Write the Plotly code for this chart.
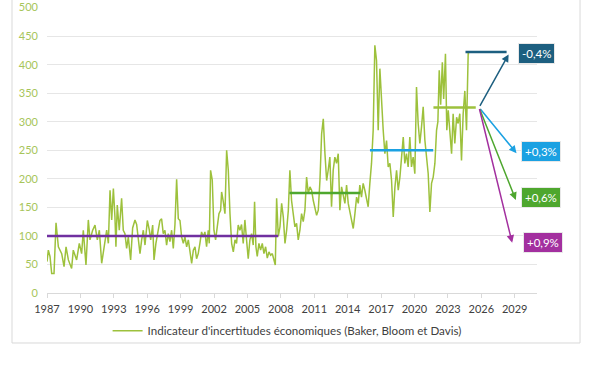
import plotly.graph_objects as go

# ---- data ----
years = [
    1987.00, 1987.12, 1987.27, 1987.42, 1987.63, 1987.81, 1988.02, 1988.32, 1988.53, 1988.71,
    1988.92, 1989.21, 1989.36, 1989.66, 1989.90, 1990.11, 1990.26, 1990.50, 1990.71, 1990.86,
    1991.10, 1991.31, 1991.52, 1991.70, 1991.91, 1992.06, 1992.36, 1992.51, 1992.66, 1992.81,
    1992.96, 1993.10, 1993.19, 1993.31, 1993.49, 1993.70, 1993.85, 1994.00, 1994.15, 1994.30,
    1994.51, 1994.69, 1994.90, 1995.05, 1995.20, 1995.35, 1995.50, 1995.65, 1995.80, 1996.01,
    1996.19, 1996.31, 1996.49, 1996.61, 1996.78, 1996.99, 1997.14, 1997.29, 1997.44, 1997.59,
    1997.74, 1997.89, 1998.04, 1998.19, 1998.34, 1998.49, 1998.64, 1998.79, 1998.94, 1999.09,
    1999.24, 1999.39, 1999.54, 1999.69, 1999.84, 1999.99, 2000.14, 2000.29, 2000.43, 2000.58,
    2000.73, 2000.88, 2001.03, 2001.18, 2001.33, 2001.48, 2001.57, 2001.69, 2001.84, 2001.99,
    2002.14, 2002.29, 2002.44, 2002.59, 2002.68, 2002.83, 2002.98, 2003.13, 2003.28, 2003.43,
    2003.58, 2003.73, 2003.88, 2004.02, 2004.17, 2004.32, 2004.47, 2004.62, 2004.77, 2004.92,
    2005.07, 2005.22, 2005.37, 2005.52, 2005.64, 2005.76, 2005.88, 2006.03, 2006.18, 2006.33,
    2006.48, 2006.63, 2006.78, 2006.93, 2007.08, 2007.23, 2007.38, 2007.50, 2007.62, 2007.77,
    2007.92, 2008.07, 2008.22, 2008.37, 2008.52, 2008.67, 2008.81, 2008.96, 2009.11, 2009.26,
    2009.41, 2009.56, 2009.71, 2009.86, 2010.01, 2010.16, 2010.31, 2010.46, 2010.61, 2010.76,
    2010.91, 2011.06, 2011.21, 2011.36, 2011.51, 2011.66, 2011.81, 2011.96, 2012.11, 2012.25,
    2012.40, 2012.55, 2012.70, 2012.85, 2013.00, 2013.15, 2013.30, 2013.45, 2013.60, 2013.75,
    2013.90, 2014.05, 2014.20, 2014.35, 2014.50, 2014.65, 2014.80, 2014.95, 2015.09, 2015.24,
    2015.39, 2015.54, 2015.69, 2015.84, 2015.99, 2016.14, 2016.29, 2016.44, 2016.59, 2016.74,
    2016.89, 2017.04, 2017.19, 2017.34, 2017.49, 2017.64, 2017.79, 2017.94, 2018.09, 2018.24,
    2018.39, 2018.54, 2018.69, 2018.84, 2018.99, 2019.13, 2019.28, 2019.43, 2019.58, 2019.73,
    2019.88, 2020.03, 2020.18, 2020.33, 2020.48, 2020.63, 2020.78, 2020.93, 2021.08, 2021.23,
    2021.38, 2021.53, 2021.68, 2021.83, 2021.98, 2022.10, 2022.22, 2022.35, 2022.50, 2022.62,
    2022.78, 2022.90, 2023.03, 2023.18, 2023.33, 2023.47, 2023.62, 2023.78, 2023.92, 2024.07,
    2024.22, 2024.37, 2024.52, 2024.67, 2024.82, 2024.91,
]
uncertainty = [
    55, 75, 64, 34, 34, 123, 81, 69, 46, 81,
    58, 43, 75, 58, 87, 69, 110, 49, 128, 93,
    110, 119, 93, 110, 52, 69, 110, 87, 180, 128,
    183, 134, 81, 154, 110, 166, 110, 104, 78, 98,
    58, 114, 128, 120, 98, 69, 93, 110, 84, 127,
    110, 93, 119, 58, 87, 110, 127, 130, 104, 110,
    84, 104, 90, 110, 78, 120, 199, 130, 127, 98,
    87, 98, 81, 93, 69, 52, 75, 81, 60, 69,
    87, 107, 98, 107, 81, 110, 87, 215, 198, 110,
    93, 120, 139, 145, 177, 160, 139, 250, 215, 139,
    87, 72, 93, 87, 119, 110, 120, 87, 128, 93,
    60, 93, 104, 84, 160, 81, 64, 87, 75, 87,
    69, 81, 61, 72, 66, 69, 58, 49, 166, 99,
    116, 157, 133, 87, 110, 145, 215, 162, 139, 116,
    122, 93, 110, 139, 125, 145, 203, 174, 186, 180,
    162, 151, 136, 145, 197, 279, 305, 244, 197, 215,
    238, 151, 215, 238, 227, 244, 145, 186, 168, 157,
    189, 157, 142, 128, 113, 139, 168, 157, 189, 168,
    192, 180, 168, 151, 192, 227, 285, 434, 407, 285,
    393, 326, 285, 244, 267, 221, 227, 197, 133, 185,
    215, 180, 203, 238, 273, 227, 244, 221, 273, 221,
    238, 209, 361, 297, 262, 291, 326, 268, 238, 209,
    142, 192, 203, 227, 285, 300, 390, 330, 404, 340,
    419, 285, 320, 279, 244, 314, 262, 308, 297, 314,
    232, 314, 354, 285, 419, 419,
]

# period averages (start year, end year, level)
avg_start = [1987.0, 2008.77, 2016.0, 2021.7, 2024.58]
avg_end = [2007.76, 2015.14, 2021.68, 2025.5, 2028.27]
avg_level = [100, 175, 250, 325, 422]

# scenario arrows: origin and targets
arrow_origin_year = 2025.8
arrow_origin_value = 325
arrow_target_year = [2028.45, 2029.16, 2029.1, 2028.77]
arrow_target_value = [418, 245, 163, 88]
scenario_labels = ["-0,4%", "+0,3%", "+0,6%", "+0,9%"]
label_year = [2029.3, 2029.6, 2029.6, 2029.7]
label_value = [419, 248, 167, 89]

x_ticks = list(range(1987, 2030, 3))
y_ticks = list(range(0, 501, 50))

series_name = "Indicateur d'incertitudes économiques (Baker, Bloom et Davis)"

# ---- styles ----
LINE_GREEN = "#9dc13c"
avg_colors = ["#7030a0", "#4ea72e", "#1ba1e2", "#9dc13c", "#1d5f80"]
scenario_colors = ["#1d5f80", "#1ba1e2", "#4ea72e", "#a3309f"]
FONT = "Lato, 'Open Sans', sans-serif"

fig = go.Figure()

fig.add_trace(go.Scatter(
    x=years, y=uncertainty, mode="lines", name=series_name,
    line=dict(color=LINE_GREEN, width=1.5), showlegend=True,
))

for s, e, lv, c in zip(avg_start, avg_end, avg_level, avg_colors):
    fig.add_trace(go.Scatter(
        x=[s, e], y=[lv, lv], mode="lines", showlegend=False,
        line=dict(color=c, width=2.5), hoverinfo="skip",
    ))

annotations = []
for ty, tv, c in zip(arrow_target_year, arrow_target_value, scenario_colors):
    annotations.append(dict(
        x=ty, y=tv, xref="x", yref="y",
        ax=arrow_origin_year, ay=arrow_origin_value, axref="x", ayref="y",
        showarrow=True, arrowhead=2, arrowsize=1, arrowwidth=1.5,
        arrowcolor=c, text="",
    ))
for lab, ly, lv, c in zip(scenario_labels, label_year, label_value, scenario_colors):
    annotations.append(dict(
        x=ly, y=lv, xref="x", yref="y", text=lab, showarrow=False,
        font=dict(family=FONT, size=11.5, color="white"),
        bgcolor=c, borderpad=3, bordercolor="#e8e8e8", borderwidth=1,
        xanchor="left", yanchor="middle",
    ))

fig.update_layout(
    width=606, height=369, autosize=False,
    margin=dict(l=47, r=69, t=7, b=76),
    paper_bgcolor="white", plot_bgcolor="white",
    font=dict(family=FONT, size=11, color="#404040"),
    xaxis=dict(
        range=[1987, 2031], tickvals=x_ticks, ticktext=[str(t) for t in x_ticks],
        showgrid=False, zeroline=False, showline=True, linecolor="#d9d9d9",
        ticks="outside", ticklen=4, tickcolor="#d9d9d9", automargin=False,
        ticklabelstandoff=2,
        tickfont=dict(family=FONT, size=11, color="#404040"),
    ),
    yaxis=dict(
        range=[0, 501], tickvals=y_ticks, showgrid=True, gridcolor="#e6e6e6",
        gridwidth=1, zeroline=False, showline=False, automargin=False,
        tickfont=dict(family=FONT, size=11, color="#a7c55a"),
        ticklabelstandoff=8,
    ),
    legend=dict(
        orientation="h", x=0.49, xanchor="center", y=-0.132, yanchor="middle",
        font=dict(family=FONT, size=11.6, color="#404040"), bgcolor="rgba(0,0,0,0)",
    ),
    annotations=annotations,
    shapes=[dict(
        type="rect", xref="paper", yref="paper",
        x0=-0.0714, x1=1.0878, y0=-0.1748, y1=1.06,
        line=dict(color="#d9d9d9", width=1), layer="below",
    )],
)

fig.write_html(
    "out.html",
    config={"displayModeBar": False},
    post_script="document.body.style.margin='0';document.body.style.overflow='hidden';",
)
